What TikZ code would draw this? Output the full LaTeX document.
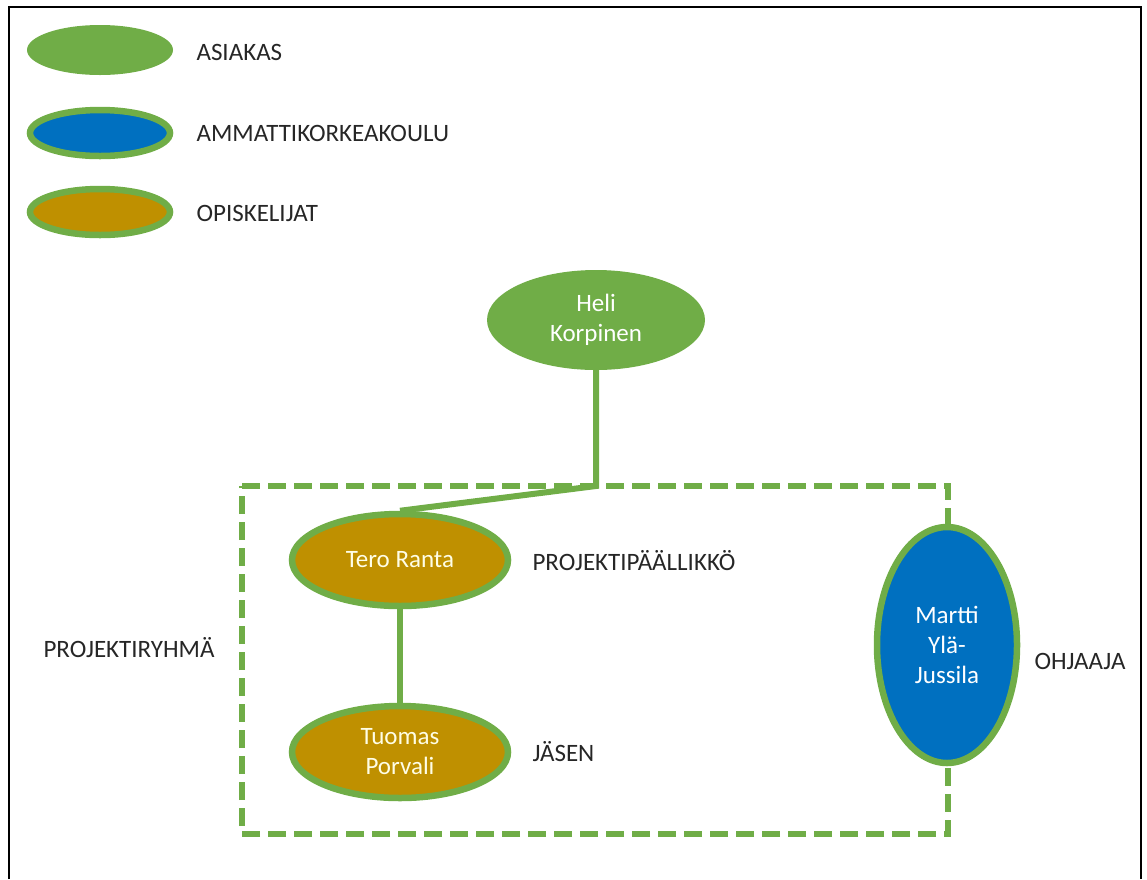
\documentclass[tikz,border=0pt]{standalone}
\usepackage{fontspec}
\setmainfont{Carlito}
\usetikzlibrary{shapes.geometric}
\definecolor{leaf}{HTML}{70AD47}
\definecolor{sea}{HTML}{0070C0}
\definecolor{ochre}{HTML}{BF9000}
\begin{document}
\begin{tikzpicture}[x=1pt,y=-1pt,
  every node/.style={font=\fontsize{25}{30}\selectfont},
  person/.style={ellipse, inner sep=0pt, align=center, text=white},
  client/.style={person, fill=leaf},
  school/.style={person, fill=sea, draw=leaf, line width=6.5pt},
  student/.style={person, fill=ochre, draw=leaf, line width=6.5pt, text=white!90!yellow},
  role/.style={anchor=west, text=black!85},
  link/.style={draw=leaf, line width=6pt},
  teambox/.style={draw=leaf, line width=6pt, dash pattern=on 18pt off 8pt}]
\useasboundingbox (0,0) rectangle (1147,879);
% frame (open at the bottom)
\draw[line width=2pt] (9,879) -- (9,7) -- (1141,7) -- (1141,879);

% legend
\node[client, minimum width=146pt, minimum height=50pt] (k1) at (100,50) {};
\node[role] (l1) at (193,52) {ASIAKAS};
\node[school, minimum width=140pt, minimum height=46pt] (k2) at (100,133) {};
\node[role] (l2) at (193,133) {AMMATTIKORKEAKOULU};
\node[student, minimum width=140pt, minimum height=46pt] (k3) at (100,212) {};
\node[role] (l3) at (193,213) {OPISKELIJAT};

% project team boundary
\coordinate (tl) at (242,486);
\coordinate (tr) at (948,486);
\coordinate (br) at (948,834);
\coordinate (bl) at (242,834);
\coordinate (j) at (596,486);
\draw[teambox] (tl) -- (tr) -- (br) -- (bl) -- cycle;

% people
\node[client, minimum width=218pt, minimum height=100pt] (heli) at (596,320) {Heli\\Korpinen};
\node[student, minimum width=216pt, minimum height=92pt] (tero) at (400,560) {Tero Ranta};
\node[student, minimum width=216pt, minimum height=92pt] (tuomas) at (400,752) {Tuomas\\Porvali};

\draw[link] (heli.south) -- (j) -- (tero.north);
\draw[link] (tero.south) -- (tuomas.north);

\node[school, minimum width=140pt, minimum height=236pt] (martti) at (947,645) {Martti\\Ylä-\\Jussila};

% role labels
\node[role] (r1) at (529,561) {PROJEKTIPÄÄLLIKKÖ};
\node[role] (r2) at (529,752) {JÄSEN};
\node[role] (r3) at (1031,661) {OHJAAJA};
\node[role] (r4) at (40,648) {PROJEKTIRYHMÄ};
\end{tikzpicture}
\end{document}
